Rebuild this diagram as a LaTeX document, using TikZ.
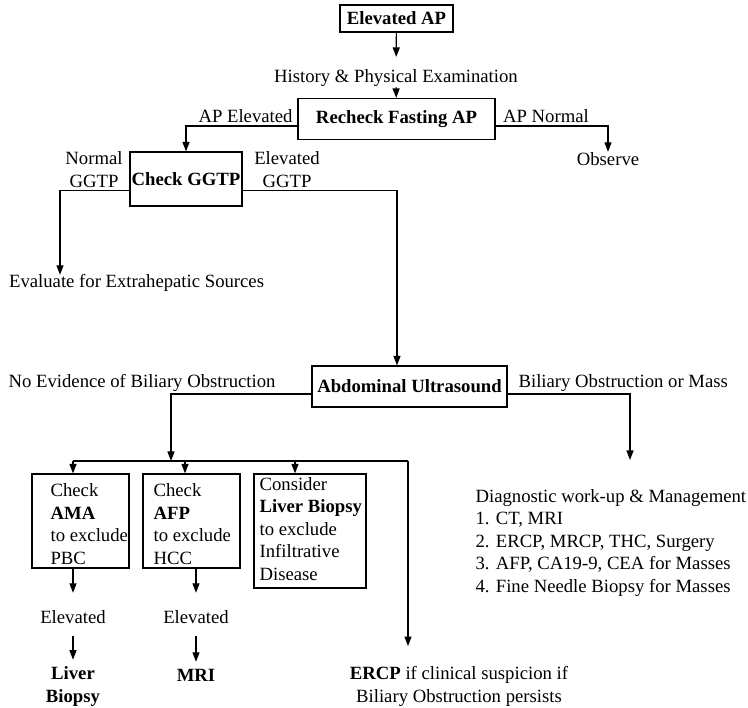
\documentclass[tikz,border=0pt]{standalone}
\usepackage{fontspec}
\setmainfont{Liberation Serif}
\usetikzlibrary{arrows.meta}
\begin{document}
\begin{tikzpicture}[x=1pt,y=-1pt,line width=1.2pt,
  font=\fontsize{18.7}{22.5}\selectfont,
  every node/.style={inner sep=0pt},
  box/.style={draw,inner sep=0pt},
  arr/.style={-{Triangle[width=7pt,length=9.5pt]}}]
\useasboundingbox (0,0) rectangle (748,708);
% top of the chart
\node[box,minimum width=113pt,minimum height=27pt] (elevap) at (396.5,18.5) {\textbf{Elevated AP}};
\node (hist) at (396,78) {History \& Physical Examination};
\node[box,minimum width=197pt,minimum height=41pt] (recheck) at (396.5,119) {\textbf{Recheck Fasting AP}};
\node (apel) at (245.5,116) {AP Elevated};
\node (apno) at (546,116) {AP Normal};
\node (observe) at (608,159) {Observe};
% GGTP
\node[box,minimum width=112pt,minimum height=54pt] (ggtp) at (186,179) {\textbf{Check GGTP}};
\node[align=center] (ggtpn) at (94,169.5) {Normal\\GGTP};
\node[align=center] (ggtpe) at (287,169.5) {Elevated\\GGTP};
\node[anchor=west] (extra) at (8.5,283) {Evaluate for Extrahepatic Sources};
\draw[arr,shorten >=12pt] (elevap) -- (hist);
\draw[arr] (hist) -- (recheck);
\draw[arr] ([yshift=-7pt]recheck.west) -| (ggtp.north);
\draw[arr] ([yshift=-7pt]recheck.east) -| (observe.north);
% ultrasound
\node[box,minimum width=195pt,minimum height=41pt] (abd) at (409.5,386.5) {\textbf{Abdominal Ultrasound}};
\node[anchor=west] (noev) at (8,383) {No Evidence of Biliary Obstruction};
\node[anchor=west] (biob) at (518,383) {Biliary Obstruction or Mass};
\node[anchor=west,align=left] (diag) at (475,543) {Diagnostic work-up \& Management\\1. CT, MRI\\2. ERCP, MRCP, THC, Surgery\\3. AFP, CA19-9, CEA for Masses\\4. Fine Needle Biopsy for Masses};
\draw[arr] ([yshift=-11.7pt]ggtp.west) -| ([xshift=51.5pt,yshift=-1pt]extra.north west);
\draw[arr] ([yshift=-11.7pt]ggtp.east) -| ([xshift=-12.5pt]abd.north);
\coordinate (dg) at (630,460);
\coordinate (busin) at (171,461);
\draw[arr] ([yshift=-7.5pt]abd.east) -| (dg);
\draw[arr] ([yshift=-7.5pt]abd.west) -| (busin);
% the three checks
\coordinate (d1) at (73,461);
\coordinate (d2) at (185,461);
\coordinate (d3) at (295,461);
\coordinate (busr) at (408,461);
\node[box,minimum width=97pt,minimum height=94pt] (ama) at (80.5,521) {};
\node[anchor=west,align=left] (amatxt) at (50,524) {Check\\\textbf{AMA}\\to exclude\\PBC};
\node[box,minimum width=97pt,minimum height=94pt] (afp) at (191.5,521) {};
\node[anchor=west,align=left] (afptxt) at (153,524) {Check\\\textbf{AFP}\\to exclude\\HCC};
\node[box,minimum width=112pt,minimum height=114pt] (liv) at (310,531) {};
\node[anchor=west,align=left] (livtxt) at (259,529) {Consider\\\textbf{Liver Biopsy}\\to exclude\\Infiltrative\\Disease};
\draw (d1) -- (busr);
\foreach \d/\b in {d1/ama,d2/afp,d3/liv}
  \draw[arr] (\d) -- (\d |- \b.north);
\node[align=center] (ercp) at (459,686.5) {\textbf{ERCP} if clinical suspicion if\\Biliary Obstruction persists};
\draw[arr,shorten >=20pt] (busr) -- (busr |- ercp.north);
% results
\node (el1) at (73,617) {Elevated};
\node (el2) at (196,617) {Elevated};
\node[align=center] (lb) at (73,686.5) {\textbf{Liver}\\\textbf{Biopsy}};
\node (mri) at (196,675) {\textbf{MRI}};
\draw[arr,shorten >=17pt] (el1 |- ama.south) -- (el1.north);
\draw[arr,shorten >=17pt] (el2 |- afp.south) -- (el2.north);
\draw[arr,shorten <=11.5pt,shorten >=6.5pt] (el1.south) -- (lb.north);
\draw[arr,shorten <=11.5pt,shorten >=6.5pt] (el2.south) -- (mri.north);
\end{tikzpicture}
\end{document}
